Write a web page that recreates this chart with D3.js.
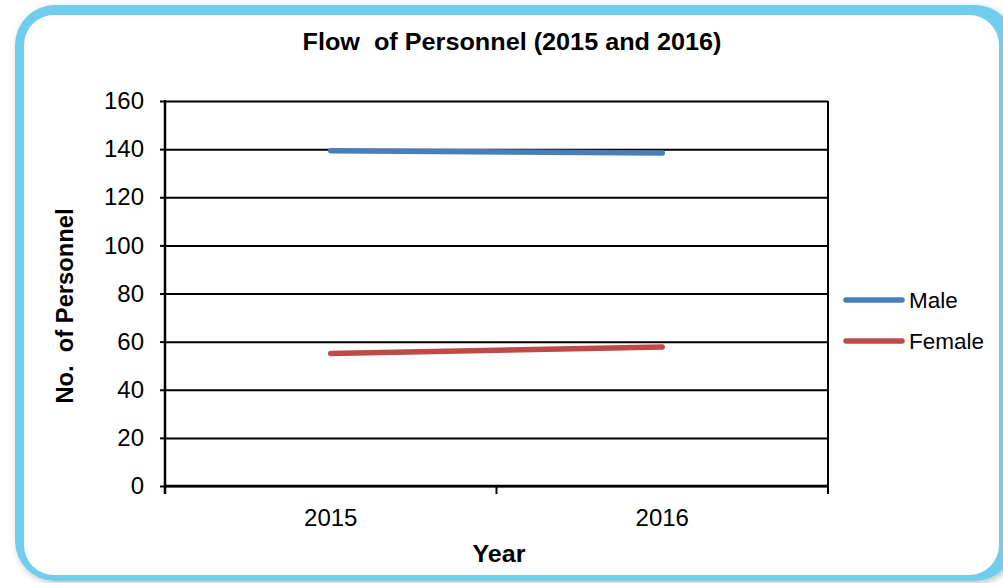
<!DOCTYPE html>
<html>
<head>
<meta charset="utf-8">
<script src="https://cdn.jsdelivr.net/npm/d3@7"></script>
<style>
  html, body { margin: 0; padding: 0; background: #fff; }
  svg { display: block; font-family: "Liberation Sans", Arial, sans-serif; }
</style>
</head>
<body>
<svg id="chart" width="1003" height="583"></svg>
<script>
const years = ['2015', '2016']
const male = [139.3, 138.4]
const female = [55.1, 57.8]
const yTicks = [0, 20, 40, 60, 80, 100, 120, 140, 160]

const series = [
  { name: 'Male', values: male, color: '#4a7ebb' },
  { name: 'Female', values: female, color: '#be4b48' },
]

const svg = d3.select('#chart')
const plot = { left: 165, right: 828, top: 101, bottom: 486 }

// frame
const defs = svg.append('defs')
defs.append('filter')
  .attr('id', 'shadow')
  .attr('x', '-5%').attr('y', '-5%').attr('width', '110%').attr('height', '110%')
  .append('feDropShadow')
  .attr('dx', 2).attr('dy', 2).attr('stdDeviation', 3)
  .attr('flood-color', '#000').attr('flood-opacity', 0.25)

svg.append('rect')
  .attr('x', 15).attr('y', 5)
  .attr('width', 1000).attr('height', 576)
  .attr('rx', 40)
  .attr('fill', '#70cdee')
  .attr('filter', 'url(#shadow)')

svg.append('rect')
  .attr('x', 24).attr('y', 15)
  .attr('width', 975).attr('height', 560)
  .attr('rx', 30)
  .attr('fill', '#fff')

const x = d3.scaleBand()
  .domain(years)
  .range([plot.left, plot.right])
  .padding(0)

const y = d3.scaleLinear()
  .domain([0, 160])
  .range([plot.bottom, plot.top])

const g = svg.append('g')

// gridlines
g.append('g')
  .attr('transform', `translate(${plot.left},0)`)
  .call(d3.axisLeft(y).tickValues(yTicks).tickSize(-(plot.right - plot.left)).tickFormat(''))
  .call(sel => sel.select('.domain').remove())
  .selectAll('line')
  .attr('stroke', '#000')
  .attr('stroke-width', 2)

// right border
g.append('line')
  .attr('x1', plot.right).attr('x2', plot.right)
  .attr('y1', plot.top).attr('y2', plot.bottom)
  .attr('stroke', '#000').attr('stroke-width', 2)

// y axis
const yAxis = g.append('g')
  .attr('transform', `translate(${plot.left},0)`)
  .call(d3.axisLeft(y).tickValues(yTicks).tickSize(5).tickPadding(16).tickSizeOuter(0))
yAxis.select('.domain').remove()
yAxis.selectAll('line').attr('stroke', '#000').attr('stroke-width', 2)
yAxis.selectAll('text')
  .attr('fill', '#000')
  .style('font-size', '24px')
  .style('font-family', '"Liberation Sans", Arial, sans-serif')

g.append('line')
  .attr('x1', plot.left).attr('x2', plot.left)
  .attr('y1', plot.top - 1).attr('y2', plot.bottom + 8)
  .attr('stroke', '#000').attr('stroke-width', 2.5)

// x axis: ticks at category boundaries
const boundaries = years.map(d => x(d)).concat([x.range()[1]])
g.append('g')
  .selectAll('line')
  .data(boundaries)
  .join('line')
  .attr('x1', d => d).attr('x2', d => d)
  .attr('y1', plot.bottom).attr('y2', plot.bottom + 8)
  .attr('stroke', '#000').attr('stroke-width', 2)

g.append('line')
  .attr('x1', plot.left).attr('x2', plot.right)
  .attr('y1', plot.bottom).attr('y2', plot.bottom)
  .attr('stroke', '#000').attr('stroke-width', 2.5)

g.append('g')
  .selectAll('text')
  .data(years)
  .join('text')
  .attr('x', d => x(d) + x.bandwidth() / 2)
  .attr('y', 526)
  .attr('text-anchor', 'middle')
  .style('font-size', '24px')
  .text(d => d)

// series lines
const line = d3.line()
  .x((d, i) => x(years[i]) + x.bandwidth() / 2)
  .y(d => y(d))

g.append('g')
  .selectAll('path')
  .data(series)
  .join('path')
  .attr('d', d => line(d.values))
  .attr('fill', 'none')
  .attr('stroke', d => d.color)
  .attr('stroke-width', 5.5)
  .attr('stroke-linecap', 'round')

// titles
svg.append('text')
  .attr('x', 512)
  .attr('y', 50)
  .attr('text-anchor', 'middle')
  .attr('textLength', 419)
  .attr('lengthAdjust', 'spacingAndGlyphs')
  .style('font-size', '23px')
  .style('font-weight', 'bold')
  .attr('xml:space', 'preserve')
  .text('Flow  of Personnel (2015 and 2016)')

svg.append('text')
  .attr('transform', 'translate(73,306) rotate(-90)')
  .attr('text-anchor', 'middle')
  .attr('textLength', 195)
  .attr('lengthAdjust', 'spacingAndGlyphs')
  .style('font-size', '23px')
  .style('font-weight', 'bold')
  .attr('xml:space', 'preserve')
  .text('No.  of Personnel')

svg.append('text')
  .attr('x', 499)
  .attr('y', 562)
  .attr('text-anchor', 'middle')
  .attr('textLength', 53)
  .attr('lengthAdjust', 'spacingAndGlyphs')
  .style('font-size', '23px')
  .style('font-weight', 'bold')
  .text('Year')

// legend
const legend = svg.append('g')
  .selectAll('g')
  .data(series)
  .join('g')
  .attr('transform', (d, i) => `translate(846,${300 + i * 41})`)

legend.append('line')
  .attr('x1', 0).attr('x2', 56)
  .attr('stroke', d => d.color)
  .attr('stroke-width', 5.5)
  .attr('stroke-linecap', 'round')

legend.append('text')
  .attr('x', 63)
  .attr('y', 8)
  .style('font-size', '22.5px')
  .text(d => d.name)
</script>
</body>
</html>
